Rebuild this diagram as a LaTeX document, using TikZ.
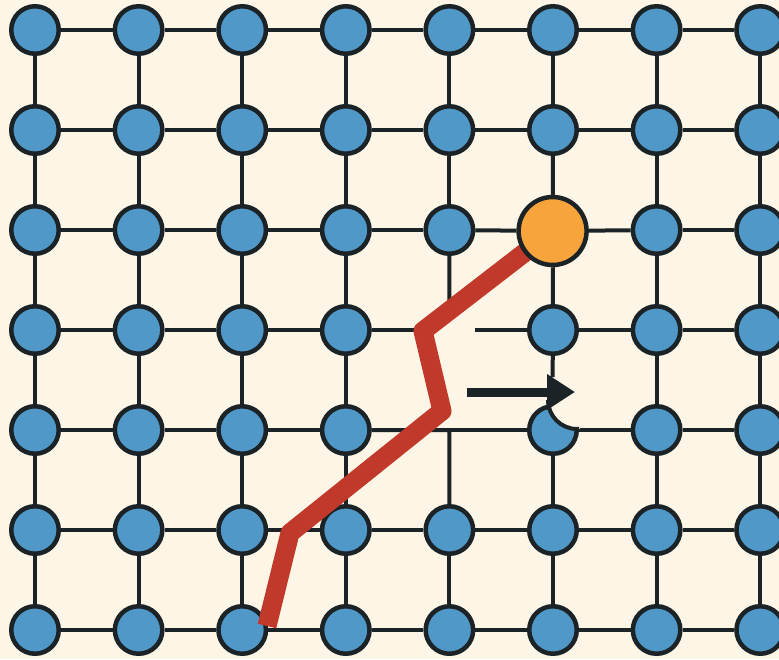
\documentclass[tikz,border=0pt]{standalone}
\usetikzlibrary{arrows.meta}
\definecolor{bgc}{HTML}{FDF5E6}
\definecolor{bluec}{HTML}{4F98C8}
\definecolor{orangec}{HTML}{F7A43C}
\definecolor{redc}{HTML}{C1392B}
\definecolor{darkc}{HTML}{1B2327}
\pgfdeclarelayer{back}
\pgfdeclarelayer{edges}
\pgfsetlayers{back,edges,main}
\tikzset{
  vnode/.style={circle, fill=bluec, draw=darkc, line width=4.5pt, minimum size=47.5pt, inner sep=0pt},
  onode/.style={circle, fill=orangec, draw=darkc, line width=4.5pt, minimum size=68pt, inner sep=0pt},
  edge/.style={draw=darkc, line width=4pt},
  redpath/.style={draw=redc, line width=19pt, line join=round},
  bigarrow/.style={draw=darkc, line width=9pt, -{Triangle[length=28pt,width=34pt]}}
}
\begin{document}
\begin{tikzpicture}[x=1pt,y=-1pt]
\begin{pgfonlayer}{back}
\fill[bgc] (0,0) rectangle (779,659);
\end{pgfonlayer}
\useasboundingbox (0,0) rectangle (779,659);
% blue nodes
\foreach \i in {0,...,7}{
  \foreach \j in {0,...,6}{
    \pgfmathtruncatemacro{\skip}{((\i==4)&&((\j==3)||(\j==4)))||((\i==5)&&(\j==2)) ? 1 : 0}
    \ifnum\skip=0
      \node[vnode] (n-\i-\j) at ({35+103.6*\i},{30+100*\j}) {};
    \fi
  }
}
\coordinate (oc) at (552.6,231);
\coordinate (c42) at (449.4,312);
\coordinate (c33) at (424,330);
\coordinate (c53) at (475,330);
\coordinate (c54) at (552.6,377);
\coordinate (k44) at (449.4,430);
\coordinate (r0) at (267,626);
\coordinate (r1) at (290,533);
\coordinate (r2) at (442,411);
\coordinate (r3) at (423,331);
\coordinate (a0) at (467,392);
\coordinate (a1) at (575,392);
% bite of the node below the arrow
\begin{scope}
  \clip (n-5-4.center) circle[radius=27pt];
  \fill[bgc] (577,400) circle[radius=29pt];
\end{scope}
\begin{scope}
  \clip (545,400) rectangle (579,433);
  \draw[darkc, line width=4pt] (577,400) circle[radius=29pt];
\end{scope}
% red path
\draw[redpath] (r0) -- (r1) -- (r2) -- (r3) -- (oc);
% orange node
\node[onode] (n-5-2) at (oc) {};
% arrow
\draw[bigarrow] (a0) -- (a1);
% edges
\begin{pgfonlayer}{edges}
\foreach \j in {0,...,6}{
  \foreach \i in {0,...,6}{
    \pgfmathtruncatemacro{\skip}{((\i==3)||(\i==4))&&((\j==3)||(\j==4)) ? 1 : 0}
    \pgfmathtruncatemacro{\k}{\i+1}
    \ifnum\skip=0
      \draw[edge] (n-\i-\j) -- (n-\k-\j);
    \fi
  }
}
\foreach \i in {0,...,7}{
  \foreach \j in {0,...,5}{
    \pgfmathtruncatemacro{\skip}{((\i==4)&&(\j>=2)&&(\j<=4))||((\i==5)&&(\j==3)) ? 1 : 0}
    \pgfmathtruncatemacro{\k}{\j+1}
    \ifnum\skip=0
      \draw[edge] (n-\i-\j) -- (n-\i-\k);
    \fi
  }
}
\draw[edge] (n-4-2) -- (c42);
\draw[edge] (n-3-3) -- (c33);
\draw[edge] (c53) -- (n-5-3);
\draw[edge] (n-5-3) -- (c54);
\draw[edge] (n-3-4) -- (k44) -- (n-4-5);
\draw[edge] (k44) -- (n-5-4);
\end{pgfonlayer}
\end{tikzpicture}
\end{document}
